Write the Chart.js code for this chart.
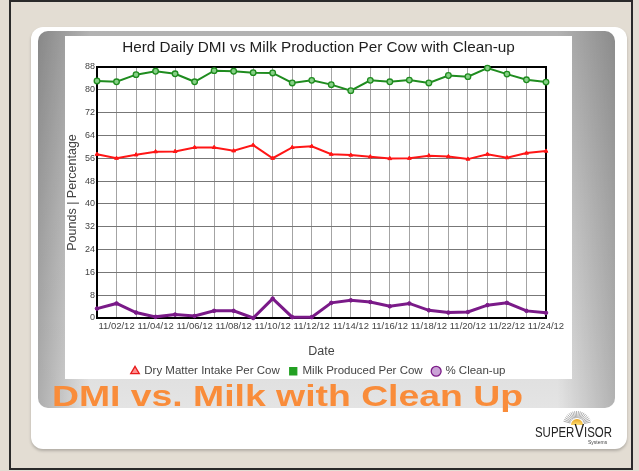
<!DOCTYPE html>
<html><head><meta charset="utf-8">
<script src="https://cdn.jsdelivr.net/npm/chart.js@4.4.0/dist/chart.umd.min.js"></script>
<style>
html,body{margin:0;padding:0;}
body{width:639px;height:471px;background:#e3ddd3;position:relative;overflow:hidden;font-family:Arial,"Liberation Sans",sans-serif;}
#frame{position:absolute;left:9px;top:0px;width:620px;height:466px;border:2px solid #2a2a2a;}
#card{position:absolute;left:31px;top:27px;width:596px;height:422px;background:#fff;border-radius:12px;box-shadow:0 2px 3px rgba(0,0,0,0.22);}
#band{position:absolute;left:38px;top:31px;width:577px;height:377px;border-radius:10px;
 background:linear-gradient(to right, rgba(0,0,0,0.24), rgba(0,0,0,0) 9%, rgba(0,0,0,0) 90%, rgba(0,0,0,0.22)),
 linear-gradient(to bottom,#b2b2b2,#cdcdcd 50%,#e4e4e4);}
#panel{position:absolute;left:65px;top:36px;width:507px;height:343px;background:#fff;}
#chartwrap{position:absolute;left:65px;top:36px;width:507px;height:351px;}
#headline{position:absolute;left:52px;top:380.6px;font:bold 30px Arial,"Liberation Sans",sans-serif;line-height:30px;color:#f98c3a;white-space:nowrap;transform-origin:0 0;}
#sv{position:absolute;left:535px;top:422px;font:15px "Liberation Sans Narrow",Arial,sans-serif;color:#222;white-space:nowrap;transform-origin:0 0;line-height:17px;}
#sv span{font-size:19px;}
#sys{position:absolute;left:588px;top:439px;font:5px Arial,sans-serif;color:#444;white-space:nowrap;}
#sun{position:absolute;left:548px;top:410px;}
</style></head>
<body>
<div id="frame"></div>
<div id="card"></div>
<div id="band"></div>
<div id="panel"></div>
<div id="chartwrap"><canvas id="c" width="507" height="351"></canvas></div>
<div id="headline">DMI vs. Milk with Clean Up</div>
<svg id="sun" width="58" height="16"></svg>
<div id="sv">SUPER<span>V</span>ISOR</div>
<div id="sys">Systems</div>
<script>
const chartTitle = 'Herd Daily DMI vs Milk Production Per Cow with Clean-up';
const dates = ['11/01/12','11/02/12','11/03/12','11/04/12','11/05/12','11/06/12','11/07/12','11/08/12','11/09/12','11/10/12','11/11/12','11/12/12','11/13/12','11/14/12','11/15/12','11/16/12','11/17/12','11/18/12','11/19/12','11/20/12','11/21/12','11/22/12','11/23/12','11/24/12'];
const dmi = [57.4, 56.0, 57.2, 58.3, 58.4, 59.8, 59.8, 58.6, 60.6, 56.0, 59.8, 60.2, 57.4, 57.1, 56.5, 55.9, 56.0, 56.9, 56.6, 55.7, 57.4, 56.2, 57.8, 58.5];
const milk = [83.1, 82.8, 85.3, 86.5, 85.6, 82.8, 86.7, 86.5, 86.0, 85.9, 82.4, 83.3, 81.8, 79.7, 83.3, 82.8, 83.4, 82.4, 85.0, 84.6, 87.6, 85.5, 83.5, 82.7];
const cleanup = [3.3, 5.1, 1.9, 0.4, 1.2, 0.7, 2.5, 2.5, 0.0, 6.8, 0.3, 0.3, 5.3, 6.2, 5.6, 4.1, 5.1, 2.7, 1.9, 2.1, 4.5, 5.3, 2.5, 1.8];
const seriesNames = ['Dry Matter Intake Per Cow', 'Milk Produced Per Cow', '% Clean-up'];
const xTitle = 'Date';
const yTitle = 'Pounds | Percentage';
const yMin = 0, yMax = 88, yStep = 8;

// decorations
const hl = document.getElementById('headline');
hl.style.transform = 'scaleX(' + (471 / hl.getBoundingClientRect().width) + ')';
const sv = document.getElementById('sv');
sv.style.transform = 'scaleX(' + (77 / sv.getBoundingClientRect().width) + ')';
const sun = document.getElementById('sun');
let s = '<defs><radialGradient id="g" cx="50%" cy="100%" r="100%"><stop offset="0" stop-color="#ffe27a"/><stop offset="1" stop-color="#e8a522"/></radialGradient></defs>';
for (let a = 12; a <= 168; a += 8) {
  const r = a * Math.PI / 180;
  s += '<line x1="' + (29 + 7 * Math.cos(r)) + '" y1="' + (15 - 7 * Math.sin(r)) + '" x2="' + (29 + 14 * Math.cos(r)) + '" y2="' + (15 - 14 * Math.sin(r)) + '" stroke="#9a9a9a" stroke-width="0.8"/>';
}
s += '<path d="M23 15 A6 6 0 0 1 35 15 Z" fill="url(#g)"/>';
sun.innerHTML = s;

const boxPlugin = {
  id: 'box',
  beforeDatasetsDraw(chart) {
    const a = chart.chartArea, c = chart.ctx;
    c.save();
    c.strokeStyle = '#000';
    c.lineWidth = 2;
    c.beginPath();
    c.moveTo(a.left, a.top); c.lineTo(a.right, a.top); c.lineTo(a.right, a.bottom);
    c.stroke();
    c.restore();
  }
};

const legendStyles = [
  {pointStyle: 'triangle', fillStyle: '#ff9090', strokeStyle: '#e81c1c'},
  {pointStyle: 'rect', fillStyle: '#22a022', strokeStyle: '#22a022'},
  {pointStyle: 'circle', fillStyle: '#caa3d6', strokeStyle: '#7c1c88'}
];

new Chart(document.getElementById('c'), {
  type: 'line',
  data: {
    labels: dates,
    datasets: [
      {label: seriesNames[0], data: dmi, borderColor: '#ff1616', backgroundColor: '#ff1616', borderWidth: 2, pointStyle: 'triangle', pointRadius: 2.2, pointBorderWidth: 1, clip: false},
      {label: seriesNames[1], data: milk, borderColor: '#1f8c1f', backgroundColor: '#86d086', borderWidth: 2, pointStyle: 'circle', pointRadius: 2.8, pointBorderWidth: 1.3, clip: false},
      {label: seriesNames[2], data: cleanup, borderColor: '#7a1a88', backgroundColor: '#7a1a88', borderWidth: 3, pointStyle: 'circle', pointRadius: 1.8, pointBorderWidth: 1, clip: false}
    ]
  },
  options: {
    responsive: false,
    animation: false,
    devicePixelRatio: 1,
    layout: {padding: 0},
    plugins: {
      title: {display: true, text: chartTitle, color: '#1e1e1e', font: {family: 'Arial', size: 15.3, weight: 'normal'}, padding: {top: 2.8, bottom: 9.8}},
      legend: {
        position: 'bottom',
        labels: {
          usePointStyle: true, boxWidth: 7, boxHeight: 7, padding: 10, color: '#444',
          font: {family: 'Arial', size: 11.5},
          generateLabels(chart) {
            const items = Chart.defaults.plugins.legend.labels.generateLabels(chart);
            items.forEach((it, i) => Object.assign(it, legendStyles[i], {lineWidth: 1.3}));
            return items;
          }
        }
      },
      tooltip: {enabled: false}
    },
    scales: {
      x: {
        grid: {color: '#a4a4a4', drawTicks: false},
        border: {color: '#000', width: 2},
        ticks: {autoSkip: false, maxRotation: 0, minRotation: 0, padding: 3, color: '#444', font: {family: 'Arial', size: 9.5},
          callback: (v, i) => (i % 2 === 1 ? dates[i] : '')},
        title: {display: true, text: xTitle, color: '#444', font: {family: 'Arial', size: 12.5}, padding: {top: 0, bottom: -4}},
        afterFit: (sc) => { sc.height = 37.5; }
      },
      y: {
        min: yMin, max: yMax,
        grid: {color: '#777', drawTicks: false},
        border: {color: '#000', width: 2},
        ticks: {stepSize: yStep, padding: 2, color: '#444', font: {family: 'Arial', size: 9}},
        title: {display: true, text: yTitle, color: '#444', font: {family: 'Arial', size: 12.5}, padding: {top: 0.5, bottom: 0}},
        afterFit: (sc) => { sc.width = 32; }
      },
      yRight: {
        type: 'linear', position: 'right', display: true,
        grid: {display: false, drawOnChartArea: false, drawTicks: false},
        border: {display: false},
        ticks: {display: false},
        afterFit: (sc) => { sc.width = 26; }
      }
    }
  },
  plugins: [boxPlugin]
});
</script>
</body></html>
